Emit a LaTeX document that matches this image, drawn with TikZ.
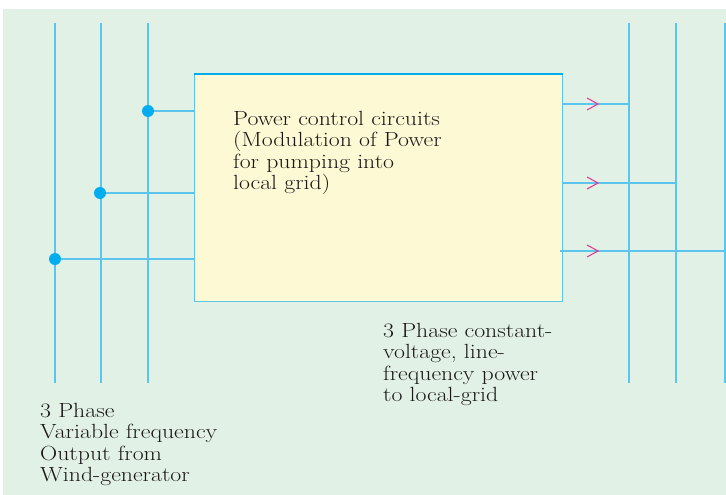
\documentclass[tikz,border=0pt]{standalone}
\usepackage{fontspec}
\setmainfont{Latin Modern Roman}[FakeStretch=1.16]
\usetikzlibrary{positioning}
\definecolor{bgcol}{HTML}{E1F1E6}
\definecolor{boxcol}{HTML}{FEF9D5}
\definecolor{wirecol}{HTML}{5BC5EE}
\definecolor{dotcol}{HTML}{00AEEF}
\definecolor{chevcol}{HTML}{E8308A}
\definecolor{txtcol}{HTML}{1A1718}
\tikzset{
  wire/.style={wirecol, line width=1.3pt},
  tap/.style={circle, fill=dotcol, inner sep=0pt, minimum size=12pt},
  chev/.style={chevcol, line width=1pt},
  caption/.style={align=left, anchor=north west, inner sep=0pt, text=txtcol,
    font=\rmfamily\fontsize{20.5}{21.3}\selectfont},
}

\begin{document}
\begin{tikzpicture}[x=1pt, y=-1pt]
    % Draw background
    \useasboundingbox (0,0) rectangle (726,495);
    \fill[bgcol] (3,9) rectangle (726,495);

    % Draw the control box
    \node[draw=wirecol, line width=1.3pt, fill=boxcol, minimum width=368pt,
          minimum height=227pt, inner sep=0pt, anchor=north west] (ctrl) at (194,74) {};
    \draw[dotcol, line width=2.5pt] (ctrl.north west) -- (ctrl.north east);

    % Draw input phase lines
    \foreach \n/\x in {a/55, b/101, c/148} {
        \coordinate (in\n top) at (\x,23);
        \coordinate (in\n bot) at (\x,383);
        \draw[wire] (in\n top) -- (in\n bot);
    }

    % Draw output phase lines
    \foreach \n/\x in {a/629, b/676, c/725} {
        \coordinate (out\n top) at (\x,23);
        \coordinate (out\n bot) at (\x,383);
        \draw[wire] (out\n top) -- (out\n bot);
    }

    % Draw taps into the box
    \node[tap] (tapc) at (148,111) {};
    \node[tap] (tapb) at (100,193) {};
    \node[tap] (tapa) at (55,259) {};
    \draw[wire] (tapc) -- (tapc -| ctrl.west);
    \draw[wire] (tapb) -- (tapb -| ctrl.west);
    \draw[wire] (tapa) -- (tapa -| ctrl.west);

    % Draw outputs from the box
    \coordinate (oa) at (562,104);
    \coordinate (ob) at (562,183);
    \coordinate (oc) at (560,251);
    \draw[wire] (oa) -- (oa -| outatop);
    \draw[wire] (ob) -- (ob -| outbtop);
    \draw[wire] (oc) -- (oc -| outctop);
    \foreach \y in {104,183,251}
        \draw[chev] (587,\y-6) -- (598,\y) -- (587,\y+6);

    % Draw the labels
    \node[caption] (boxtxt) at (233,111) {Power control circuits\\(Modulation of Power\\for pumping into\\local grid)};
    \node[caption] (outtxt) at (383,323) {3 Phase constant-\\voltage, line-\\frequency power\\to local-grid};
    \node[caption] (intxt) at (40,403) {3 Phase\\Variable frequency\\Output from\\Wind-generator};
\end{tikzpicture}
\end{document}
